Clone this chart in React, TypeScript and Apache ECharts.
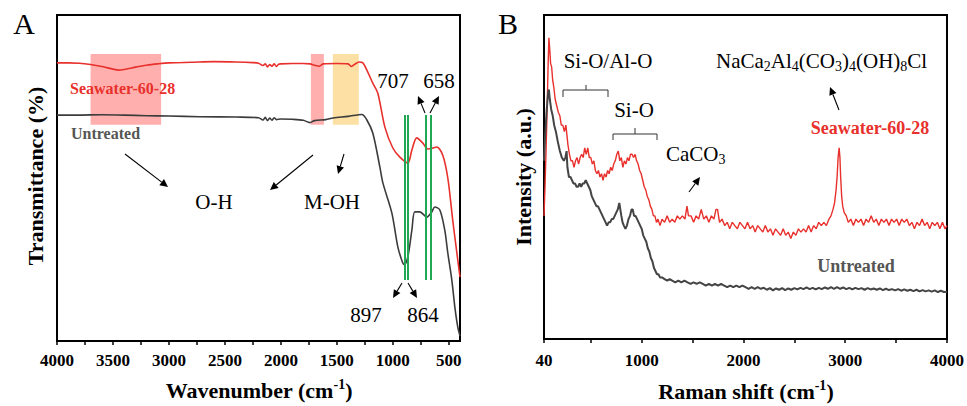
import React, { useEffect, useRef } from "react";
import * as echarts from "echarts";

// ---------- FTIR (panel A) ----------
const ftirSeawater: number[][] = [
  [4000, 85.3], [3900, 85.3], [3800, 85.2], [3700, 84.8], [3600, 84.2], [3500, 83.4], [3450, 83.1],
  [3400, 83.3], [3300, 84], [3200, 84.6], [3100, 85], [3000, 85.3], [2800, 85.5], [2600, 85.7],
  [2400, 85.6], [2250, 85.4], [2200, 85.2], [2160, 84.5], [2140, 85], [2120, 84.1], [2100, 84.8],
  [2080, 84.3], [2060, 85], [2040, 84.2], [2020, 84.9], [2000, 85], [1900, 85.1], [1800, 85.1],
  [1740, 85], [1700, 84.6], [1660, 84.3], [1620, 85], [1500, 85.1], [1400, 85], [1370, 84.2],
  [1340, 84.9], [1300, 85.6], [1270, 85.4], [1232, 83.1], [1179, 79.1], [1134, 76], [1071, 65.6],
  [1000, 59.2], [937, 56.4], [866, 54.6], [830, 58.6], [786, 62.3], [732, 60.7], [688, 58.9],
  [640, 59.2], [607, 59.5], [554, 57], [509, 50], [464, 36.8], [429, 27.3], [400, 19.6],
];
const ftirUntreated: number[][] = [
  [4000, 69.3], [3800, 69.3], [3600, 69.4], [3400, 69.3], [3200, 69.1], [3000, 69], [2723, 68.8],
  [2400, 68.7], [2200, 68.5], [2160, 67.8], [2140, 68.6], [2120, 67.6], [2100, 68.4], [2080, 67.7],
  [2060, 68.5], [2040, 67.9], [2000, 68.1], [1900, 68], [1800, 67.7], [1741, 67], [1700, 67.6],
  [1600, 67.9], [1533, 68.4], [1400, 68.9], [1277, 69.5], [1232, 67.8], [1179, 63.8], [1116, 53.4],
  [1089, 48.5], [1009, 39.3], [955, 28.8], [911, 23.9], [897, 23.4], [866, 25.8], [830, 34],
  [804, 39.6], [759, 39.6], [696, 38], [652, 39.6], [625, 41.1], [580, 40.2], [536, 34], [509, 27],
  [473, 18.7], [446, 10.4], [420, 4.3], [400, 1.5],
];
const ftirBands: number[] = [897, 864, 707, 658];
const ftirTicks: number[] = [500, 1000, 1500, 2000, 2500, 3000, 3500, 4000];
const ftirMinorTicks: number[] = [750, 1250, 1750, 2250, 2750, 3250, 3750];
const ftirRegions: number[][] = [
  [3700, 3070],
  [1732, 1616],
  [1536, 1304],
];

// ---------- Raman (panel B) ----------
const ramanSeawater: number[][] = [
  [40, 38], [50, 47], [60, 58], [70, 70], [80, 84], [88, 93], [95, 90], [105, 85], [115, 84], [125, 80],
  [135, 78], [150, 74], [165, 72], [180, 70], [195, 69], [210, 66], [225, 66], [240, 64], [255, 66],
  [265, 63], [275, 60], [290, 57], [305, 55], [320, 55], [335, 53], [350, 55], [365, 56], [380, 54],
  [395, 56], [410, 57], [425, 56], [440, 59], [455, 57], [470, 59], [485, 56], [500, 56], [515, 54],
  [530, 55], [545, 52], [560, 51], [575, 52], [590, 50], [605, 51], [620, 49], [635, 51], [650, 50],
  [665, 52], [680, 51], [695, 53], [710, 52], [725, 54], [740, 55], [755, 57], [770, 58], [785, 55],
  [800, 56], [815, 53], [830, 55], [845, 54], [860, 56], [875, 55], [890, 57], [905, 57], [920, 56],
  [935, 57], [950, 55], [965, 54], [980, 52], [995, 51], [1010, 49], [1025, 47], [1040, 46], [1055, 44],
  [1070, 43], [1085, 41], [1100, 40], [1115, 38], [1130, 38], [1145, 36], [1160, 37], [1180, 35],
  [1200, 37], [1225, 36], [1250, 38], [1275, 36], [1300, 37], [1325, 36], [1350, 38], [1375, 37],
  [1400, 38], [1425, 37], [1445, 41], [1460, 38], [1485, 38], [1510, 36], [1535, 38], [1560, 37],
  [1585, 40], [1610, 37], [1635, 38], [1660, 36], [1685, 38], [1710, 37], [1730, 40], [1745, 40],
  [1765, 36], [1790, 37], [1815, 35], [1840, 36], [1865, 34], [1890, 36], [1915, 35], [1940, 34],
  [1965, 36], [1990, 35], [2015, 34], [2040, 36], [2065, 34], [2090, 35], [2115, 33], [2140, 35],
  [2165, 34], [2190, 33], [2215, 35], [2240, 33], [2265, 34], [2290, 32], [2315, 34], [2340, 33],
  [2365, 32], [2390, 34], [2415, 32], [2440, 33], [2465, 31], [2490, 33], [2515, 32], [2540, 34],
  [2565, 33], [2590, 34], [2615, 33], [2640, 35], [2665, 33], [2690, 35], [2715, 34], [2740, 36],
  [2765, 35], [2790, 36], [2815, 35], [2840, 37], [2860, 38], [2880, 40], [2895, 42], [2910, 46],
  [2920, 50], [2930, 56], [2940, 59], [2948, 56], [2955, 50], [2965, 44], [2975, 41], [2990, 39],
  [3010, 38], [3030, 36], [3055, 37], [3080, 35], [3105, 37], [3130, 36], [3155, 37], [3180, 35],
  [3205, 37], [3230, 36], [3255, 38], [3280, 36], [3305, 37], [3330, 35], [3355, 37], [3380, 36],
  [3405, 37], [3430, 35], [3455, 37], [3480, 36], [3505, 37], [3530, 35], [3555, 37], [3580, 36],
  [3605, 37], [3630, 35], [3655, 36], [3680, 34], [3705, 36], [3730, 35], [3755, 37], [3780, 35],
  [3805, 36], [3830, 34], [3855, 36], [3880, 35], [3905, 36], [3930, 34], [3955, 36], [3980, 34],
  [4000, 35],
];
const ramanUntreated: number[][] = [
  [40, 55], [50, 62], [65, 70], [80, 76], [88, 77], [97, 74], [110, 71], [125, 69], [140, 66], [157, 64],
  [175, 61], [196, 58], [215, 56], [235, 55], [250, 56], [262, 58], [270, 53], [285, 50], [300, 50],
  [315, 49], [330, 48], [345, 48], [360, 47], [375, 47], [390, 48], [405, 47], [420, 48], [435, 48],
  [450, 49], [465, 48], [480, 47], [495, 46], [510, 44], [525, 43], [540, 42], [555, 41], [570, 41],
  [585, 40], [600, 39], [615, 38], [630, 37], [645, 36], [660, 35], [675, 36], [690, 36], [705, 37],
  [720, 37], [735, 38], [750, 39], [765, 40], [780, 42], [790, 40], [800, 38], [812, 36], [825, 35],
  [840, 34], [855, 35], [870, 37], [885, 38], [900, 40], [912, 40], [925, 38], [940, 38], [955, 37],
  [970, 36], [985, 35], [1000, 34], [1015, 32], [1030, 31], [1045, 30], [1060, 28], [1075, 27],
  [1090, 25], [1105, 24], [1120, 22], [1135, 21], [1150, 20], [1165, 20], [1180, 19], [1200, 19],
  [1225, 18.5], [1250, 18], [1275, 18.5], [1300, 18], [1330, 17.5], [1360, 18], [1390, 17.5],
  [1420, 18], [1450, 17.5], [1480, 17], [1510, 17.5], [1540, 17], [1570, 17.5], [1600, 17],
  [1630, 16.5], [1660, 17], [1690, 16.5], [1720, 17], [1750, 16.5], [1780, 17], [1810, 16.5],
  [1840, 16], [1870, 16.5], [1900, 16], [1930, 16.5], [1960, 16], [1990, 16.5], [2020, 16],
  [2050, 15.5], [2080, 16], [2110, 15.5], [2140, 16], [2170, 15.5], [2200, 15.8], [2230, 15.2],
  [2260, 15.7], [2290, 15], [2320, 15.6], [2350, 15.2], [2380, 15.7], [2410, 15.1], [2440, 15.6],
  [2470, 15.2], [2500, 15.7], [2530, 15.3], [2560, 15.8], [2590, 15.4], [2620, 15.9], [2650, 15.4],
  [2680, 15.8], [2710, 15.3], [2740, 15.8], [2770, 15.4], [2800, 15.9], [2830, 15.5], [2860, 16],
  [2890, 15.5], [2920, 16], [2950, 15.5], [2980, 15.9], [3010, 15.4], [3040, 15.8], [3070, 15.3],
  [3100, 15.8], [3130, 15.4], [3160, 15.7], [3190, 15.2], [3220, 15.7], [3250, 15.3], [3280, 15.6],
  [3310, 15.2], [3340, 15.6], [3370, 15.1], [3400, 15.5], [3430, 15.1], [3460, 15.4], [3490, 15],
  [3520, 15.4], [3550, 14.9], [3580, 15.3], [3610, 14.9], [3640, 15.2], [3670, 14.8], [3700, 15.2],
  [3730, 14.7], [3760, 15.1], [3790, 14.7], [3820, 15], [3850, 14.6], [3880, 15], [3910, 14.5],
  [3940, 14.9], [3970, 14.5], [4000, 14.6],
];
const ramanTicks: number[] = [40, 500, 1000, 1500, 2000, 2500, 3000, 3500, 4000];
const ramanLabels: number[] = [40, 1000, 2000, 3000, 4000];

const SERIF = "Liberation Serif";
const RED = "#E8302C";
const DARK = "#3c3c3c";

function arrow(x1: number, y1: number, x2: number, y2: number) {
  const a = Math.atan2(y2 - y1, x2 - x1);
  const c = Math.cos(a);
  const s = Math.sin(a);
  const L = 8;
  const W = 3.8;
  const bx = x2 - L * c;
  const by = y2 - L * s;
  return [
    { type: "line", z: 20, shape: { x1, y1, x2: bx, y2: by }, style: { stroke: "#000", lineWidth: 1.1 } },
    {
      type: "polygon",
      z: 20,
      shape: { points: [[x2, y2], [bx - W * s, by + W * c], [bx + W * s, by - W * c]] },
      style: { fill: "#000" },
    },
  ];
}

function txt(text: string, x: number, y: number, size: number, opts: any = {}) {
  return {
    type: "text",
    z: 20,
    x,
    y,
    rotation: opts.rotation || 0,
    style: {
      text,
      fontFamily: SERIF,
      fontSize: size,
      fontWeight: opts.bold ? "bold" : "normal",
      fill: opts.color || "#000",
      align: opts.align || "center",
      verticalAlign: "middle",
      rich: opts.rich,
    },
  };
}

const supRich = (size: number) => ({
  a: { fontFamily: SERIF, fontSize: size, fontWeight: "bold", fill: "#000", lineHeight: size + 2, verticalAlign: "bottom" },
  s: { fontFamily: SERIF, fontSize: Math.round(size * 0.65), fontWeight: "bold", fill: "#000", lineHeight: size + 2, verticalAlign: "top" },
});

const subRich = (size: number) => ({
  a: { fontFamily: SERIF, fontSize: size, fill: "#000", lineHeight: size + 4, verticalAlign: "middle" },
  b: { fontFamily: SERIF, fontSize: Math.round(size * 0.65), fill: "#000", lineHeight: size + 4, verticalAlign: "bottom" },
});

export default function App() {
  const ref = useRef<HTMLDivElement>(null);
  useEffect(() => {
    if (!ref.current) return;
    const chart = echarts.init(ref.current, null, { renderer: "svg" });
    const axisLabel = (values: number[]) => ({
      customValues: values,
      formatter: (v: number) => String(v),
      fontFamily: SERIF,
      fontWeight: "bold",
      fontSize: 17,
      color: "#000",
      margin: 11,
    });
    const option: any = {
      animation: false,
      textStyle: { fontFamily: SERIF },
      grid: [
        { left: 57, top: 15, width: 403, height: 326, show: true, borderColor: "#000", borderWidth: 2, backgroundColor: "transparent" },
        { left: 544, top: 15, width: 403, height: 324, show: true, borderColor: "#000", borderWidth: 2, backgroundColor: "transparent" },
      ],
      xAxis: [
        {
          type: "value", gridIndex: 0, min: 400, max: 4000, inverse: true,
          axisLine: { lineStyle: { color: "#000", width: 2 } },
          axisTick: { customValues: [...ftirTicks, ...ftirMinorTicks], length: 4, inside: false, lineStyle: { color: "#000", width: 1.5 } },
          axisLabel: axisLabel(ftirTicks),
          splitLine: { show: false },
        },
        {
          type: "value", gridIndex: 1, min: 40, max: 4000,
          axisLine: { lineStyle: { color: "#000", width: 2 } },
          axisTick: { customValues: ramanTicks, length: 4, inside: false, lineStyle: { color: "#000", width: 1.5 } },
          axisLabel: { ...axisLabel(ramanLabels), margin: 13 },
          splitLine: { show: false },
        },
      ],
      yAxis: [0, 1].map((g) => ({
        type: "value", gridIndex: g, min: 0, max: 100,
        axisLine: { show: true, lineStyle: { color: "#000", width: 2 } },
        axisTick: { show: false }, axisLabel: { show: false }, splitLine: { show: false },
      })),
      series: [
        {
          type: "line", xAxisIndex: 0, yAxisIndex: 0, data: [], z: 1, silent: true,
          markArea: {
            silent: true,
            data: ftirRegions.map((r, i) => [
              { xAxis: r[0], yAxis: 88, itemStyle: { color: i === 2 ? "#FDE0A3" : "#FFB0AE" } },
              { xAxis: r[1], yAxis: 66.3 },
            ]),
          },
        },
        {
          type: "line", xAxisIndex: 0, yAxisIndex: 0, data: [], z: 3, silent: true,
          markLine: {
            silent: true, symbol: "none", label: { show: false },
            lineStyle: { color: "#22A852", width: 2, type: "solid" },
            data: ftirBands.map((b) => [{ coord: [b, 69.3] }, { coord: [b, 18.7] }]),
          },
        },
        {
          name: "Seawater-60-28 FTIR", type: "line", xAxisIndex: 0, yAxisIndex: 0, data: ftirSeawater,
          showSymbol: false, smooth: 0.3, z: 4, lineStyle: { color: RED, width: 1.6 },
        },
        {
          name: "Untreated FTIR", type: "line", xAxisIndex: 0, yAxisIndex: 0, data: ftirUntreated,
          showSymbol: false, smooth: 0.3, z: 4, lineStyle: { color: DARK, width: 1.6 },
        },
        {
          name: "Seawater-60-28 Raman", type: "line", xAxisIndex: 1, yAxisIndex: 1, data: ramanSeawater,
          showSymbol: false, z: 4, lineStyle: { color: RED, width: 1.4 },
        },
        {
          name: "Untreated Raman", type: "line", xAxisIndex: 1, yAxisIndex: 1, data: ramanUntreated,
          showSymbol: false, z: 4, lineStyle: { color: "#444", width: 2 },
        },
      ],
      graphic: [
        // panel A
        txt("A", 24, 23, 30),
        txt("Seawater-60-28", 70, 88, 16, { bold: true, color: RED, align: "left" }),
        txt("Untreated", 71, 133, 16, { bold: true, color: "#555", align: "left" }),
        txt("707", 393, 81, 21),
        txt("658", 439, 81, 21),
        txt("O-H", 214, 202, 21),
        txt("M-OH", 332, 202, 21),
        txt("897", 366, 315, 21),
        txt("864", 423, 315, 21),
        ...arrow(125, 154, 168, 187),
        ...arrow(313, 155, 270, 190),
        ...arrow(344, 154, 338, 174),
        ...arrow(425, 113, 418, 96),
        ...arrow(430, 113, 439, 96),
        ...arrow(402, 283, 393, 298),
        ...arrow(408, 283, 417, 298),
        txt("{a|Transmittance (%)}", 34, 176, 22, { rotation: Math.PI / 2, rich: supRich(22) }),
        txt("{a|Wavenumber (cm}{s|-1}{a|)}", 259, 389, 22, { rich: supRich(22) }),
        // panel B
        txt("B", 508, 23, 30),
        txt("Si-O/Al-O", 608, 61, 21),
        txt("Si-O", 634, 110, 21),
        txt("{a|CaCO}{b|3}", 666, 154, 21, { align: "left", rich: subRich(21) }),
        txt("{a|NaCa}{b|2}{a|Al}{b|4}{a|(CO}{b|3}{a|)}{b|4}{a|(OH)}{b|8}{a|Cl}", 716, 61, 21, { align: "left", rich: subRich(21) }),
        txt("Seawater-60-28", 870, 128, 18, { bold: true, color: RED }),
        txt("Untreated", 856, 266, 18, { bold: true, color: "#555" }),
        {
          type: "polyline", z: 20,
          shape: { points: [[563, 97], [563, 90], [608, 90], [608, 97]] },
          style: { stroke: "#333", lineWidth: 1, fill: "none" },
        },
        { type: "line", z: 20, shape: { x1: 586, y1: 90, x2: 586, y2: 85 }, style: { stroke: "#333", lineWidth: 1 } },
        {
          type: "polyline", z: 20,
          shape: { points: [[613, 140], [613, 134], [657, 134], [657, 140]] },
          style: { stroke: "#333", lineWidth: 1, fill: "none" },
        },
        { type: "line", z: 20, shape: { x1: 635, y1: 134, x2: 635, y2: 128 }, style: { stroke: "#333", lineWidth: 1 } },
        ...arrow(689, 192, 700, 177),
        ...arrow(839, 110, 830, 87),
        txt("{a|Intensity (a.u.)}", 522, 177, 22, { rotation: Math.PI / 2, rich: supRich(22) }),
        txt("{a|Raman shift (cm}{s|-1}{a|)}", 746, 390, 22, { rich: supRich(22) }),
      ],
    };
    chart.setOption(option);
    return () => chart.dispose();
  }, []);
  return (
    <div
      ref={ref}
      style={{ position: "fixed", left: 0, top: 0, width: 967, height: 406, background: "#fff" }}
    />
  );
}
